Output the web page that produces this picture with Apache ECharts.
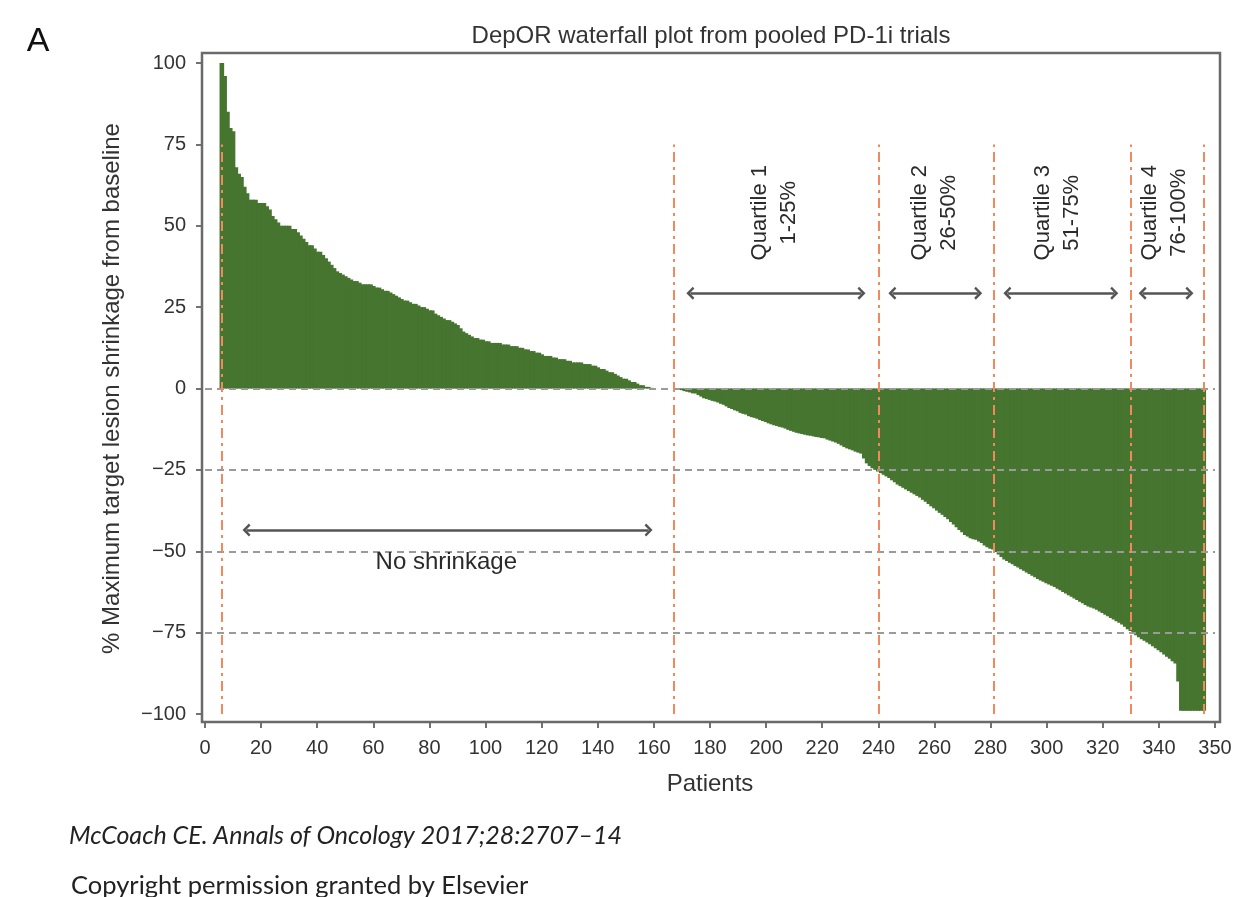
<!DOCTYPE html>
<html>
<head>
<meta charset="utf-8">
<title>DepOR waterfall plot</title>
<script src="https://cdn.jsdelivr.net/npm/echarts@6/dist/echarts.min.js"></script>
<style>
html, body { margin: 0; padding: 0; background: #fff; }
#chart { width: 1236px; height: 897px; }
</style>
</head>
<body>
<div id="chart"></div>
<script>
// patient number of the first bar, bars then go one per patient
const firstPatient = 6;

// % change of target lesion (largest growth first)
const shrinkUp = [
  100, 96, 85, 80, 79, 68, 66, 65, 62, 60,
  58, 58, 58, 57, 57, 57, 56, 55, 53, 52,
  51, 50, 50, 50, 50, 49, 49, 48, 47, 46,
  45, 44, 44, 43, 42, 42, 41, 40, 39, 38,
  37, 36, 35.5, 35, 34.5, 34, 33.5, 33, 33, 32.5,
  32, 32, 32, 32, 31.5, 31, 31, 30.5, 30, 30,
  29.5, 29, 28.5, 28, 27.5, 27, 27, 26.5, 26, 26,
  25.5, 25, 25, 24.5, 24, 24, 23, 22.5, 22, 21.5,
  21, 21, 20.5, 20, 19.5, 18.5, 17.5, 17, 16.5, 16,
  15.5, 15.5, 15, 15, 14.5, 14.5, 14, 14, 14, 14,
  13.5, 13.5, 13.5, 13, 13, 13, 12.5, 12.5, 12, 12,
  11.5, 11.5, 11, 11, 10.5, 10, 10, 10, 9.5, 9.5,
  9, 9, 9, 8.5, 8.5, 8, 8, 8, 8, 7.5,
  7.5, 7.5, 7, 7, 6.5, 6, 6, 5.5, 5, 5,
  4.5, 4, 3.5, 3, 3, 2.5, 2, 2, 1.5, 1,
  1, 0.5, 0.5, 0.2
];
const shrinkFlat = [0, 0, 0, 0, 0, 0, 0, 0, 0];
const shrinkDown = [
  -0.3, -0.5, -0.8, -1, -1.2, -1.5, -1.5, -2, -2.5, -3, -3.2, -3.5,
  -3.8, -4, -4.3, -4.7, -5, -5.5, -6, -6.3, -6.7, -7,
  -7.5, -7.8, -8, -8.5, -8.8, -9, -9.3, -9.7, -10, -10.3,
  -10.7, -11, -11.3, -11.5, -11.8, -12, -12.3, -12.7, -13, -13.3,
  -13.6, -13.8, -14, -14.2, -14.4, -14.5, -14.7, -14.9, -15, -15.2,
  -15.3, -15.7, -16, -16.3, -16.6, -17, -17.5, -18, -18.4, -18.7,
  -19, -19.4, -19.7, -20, -21.5, -23, -23.8, -24.5, -25, -25.5,
  -26, -26.5, -27, -27.5, -28.2, -28.8, -29.5, -30, -30.5, -31,
  -31.5, -32, -32.5, -33, -33.5, -34.2, -34.8, -35.5, -36.2, -36.8,
  -37.5, -38.2, -38.8, -39.5, -40.2, -41, -41.8, -42.6, -43.5, -44.2,
  -45, -45.5, -46, -46.3, -46.5, -47, -47.5, -48.2, -48.8, -49.2,
  -49.5, -50.2, -51, -51.8, -52.5, -53, -53.5, -54, -54.5, -55,
  -55.5, -56, -56.5, -57, -57.5, -58, -58.5, -59, -59.4, -59.8,
  -60.2, -60.6, -61, -61.5, -62, -62.5, -63, -63.5, -64, -64.5,
  -65, -65.5, -66, -66.5, -67, -67.3, -67.6, -68, -68.5, -69,
  -69.5, -70, -70.5, -71, -71.5, -72, -72.5, -73.2, -74, -74.5,
  -75.2, -75.8, -76.4, -77, -77.5, -78, -78.6, -79.2, -79.8, -80.4,
  -81, -81.7, -82.4, -83, -83.8, -84.5, -90, -99, -99, -99,
  -99, -99, -99, -99, -99, -99
];

// axis ticks (the last tick of the original is printed as 350)
const xMax = 360, xStep = 20, xLastLabel = '350';
const yMin = -100, yMax = 100, yStep = 25;

// grey dashed levels and orange group cut-offs
const refLevels = [0, -25, -50, -75];
const cutPatients = [6, 167, 240, 281, 330, 356];
const cutFrom = -100, cutTo = 75;

// double arrows: [from patient, to patient, level]
const arrowSpans = [
  [14.8, 158.1, -43.5],
  [173, 234, 29.3],
  [245, 275.6, 29.3],
  [286, 324.1, 29.3],
  [334.2, 350.9, 29.3]
];
const quartileText = ['Quartile 1\n1-25%', 'Quartile 2\n26-50%', 'Quartile 3\n51-75%', 'Quartile 4\n76-100%'];
const quartileX = [203, 260, 304, 342];
const quartileY = 54;
const noShrinkText = 'No shrinkage';
const noShrinkAt = [86, -53.5];

const pctChange = shrinkUp.concat(shrinkFlat, shrinkDown);
const barData = pctChange.map((v, i) => [firstPatient + i, v]);

const font = '"Liberation Sans", Arial, sans-serif';
const green = '#46752f';
const orange = '#f2895c';

const chevron = 'path://M0,10 L10,0 L20,10 L17,12.5 L10,5.5 L3,12.5 Z';

var chart = echarts.init(document.getElementById('chart'));
chart.setOption({
  animation: false,
  grid: { left: 205, top: 63, width: 1010, height: 651 },
  xAxis: {
    type: 'value', min: 0, max: xMax, interval: xStep,
    offset: 8,
    axisLine: { show: false, onZero: false },
    axisTick: { show: true, length: 6, lineStyle: { color: '#444', width: 1.5 } },
    axisLabel: {
      margin: 16, fontSize: 20, fontFamily: font, color: '#333',
      formatter: v => (v === xMax ? xLastLabel : String(v))
    },
    splitLine: { show: false },
    name: 'Patients', nameLocation: 'middle', nameGap: 50,
    nameTextStyle: { fontSize: 24, fontFamily: font, color: '#333' }
  },
  yAxis: {
    type: 'value', min: yMin, max: yMax, interval: yStep,
    offset: 3,
    axisLine: { show: false, onZero: false },
    axisTick: { show: true, length: 6, lineStyle: { color: '#444', width: 1.5 } },
    axisLabel: {
      margin: 16, fontSize: 20, fontFamily: font, color: '#333',
      formatter: v => (v < 0 ? '\u2212' + Math.abs(v) : String(v))
    },
    splitLine: { show: false },
    name: '% Maximum target lesion shrinkage from baseline',
    nameLocation: 'middle', nameGap: 78,
    nameTextStyle: { fontSize: 24, fontFamily: font, color: '#333' }
  },
  series: [
    {
      type: 'bar',
      data: barData,
      barWidth: 4.6,
      itemStyle: { color: green },
      silent: true
    },
    {
      // grey dashed reference levels
      type: 'line', data: [], silent: true,
      markLine: {
        symbol: ['none', 'none'], silent: true, animation: false,
        label: { show: false },
        lineStyle: { color: '#9a9a9a', type: [7, 5], width: 2 },
        data: refLevels.map(v => ({ yAxis: v }))
      }
    },
    {
      // orange cut-offs
      type: 'line', data: [], silent: true,
      markLine: {
        symbol: ['none', 'none'], silent: true, animation: false,
        label: { show: false },
        lineStyle: { color: orange, type: [10, 5, 3, 5], width: 2 },
        data: cutPatients.map(p => [{ coord: [p, cutFrom] }, { coord: [p, cutTo] }])
      }
    },
    {
      // double headed arrows
      type: 'line', data: [], silent: true,
      markLine: {
        symbol: [chevron, chevron], symbolSize: [13, 8], silent: true, animation: false,
        label: { show: false },
        lineStyle: { color: '#555', type: 'solid', width: 2.5 },
        data: arrowSpans.map(a => [{ coord: [a[0], a[2]] }, { coord: [a[1], a[2]] }])
      }
    },
    {
      type: 'scatter', silent: true, symbolSize: 0, z: 6,
      itemStyle: { color: '#fff' },
      label: {
        show: true, position: 'inside', rotate: 90,
        align: 'center', verticalAlign: 'middle',
        fontSize: 22, lineHeight: 29, fontFamily: font, color: '#2a2a2a',
        textBorderWidth: 0, opacity: 1,
        formatter: p => quartileText[p.dataIndex]
      },
      data: quartileX.map(x => [x, quartileY])
    },
    {
      type: 'scatter', silent: true, symbolSize: 0, z: 6,
      itemStyle: { color: '#fff' },
      label: {
        show: true, position: 'inside',
        align: 'center', verticalAlign: 'middle',
        fontSize: 24, fontFamily: font, color: '#2a2a2a',
        textBorderWidth: 0, opacity: 1,
        formatter: noShrinkText
      },
      data: [noShrinkAt]
    }
  ],
  graphic: [
    {
      type: 'rect', z: 10, silent: true,
      shape: { x: 202, y: 53, width: 1018, height: 669 },
      style: { fill: 'none', stroke: '#6a6a6a', lineWidth: 2.5 }
    },
    {
      type: 'text', x: 38, y: 42, silent: true,
      style: { text: 'A', font: '34px ' + font, fill: '#111', align: 'center', verticalAlign: 'middle' }
    },
    {
      type: 'text', x: 711, y: 36, silent: true,
      style: { text: 'DepOR waterfall plot from pooled PD-1i trials', font: '24px ' + font, fill: '#333', align: 'center', verticalAlign: 'middle' }
    },
    {
      type: 'text', x: 69, y: 836, silent: true,
      style: { text: 'McCoach CE. Annals of Oncology 2017;28:2707\u201314', font: 'italic 25px Lato, sans-serif', fill: '#222', align: 'left', verticalAlign: 'middle' }
    },
    {
      type: 'text', x: 71, y: 886, silent: true,
      style: { text: 'Copyright permission granted by Elsevier', font: '25.5px Lato, sans-serif', fill: '#222', align: 'left', verticalAlign: 'middle' }
    }
  ]
});
</script>
</body>
</html>
